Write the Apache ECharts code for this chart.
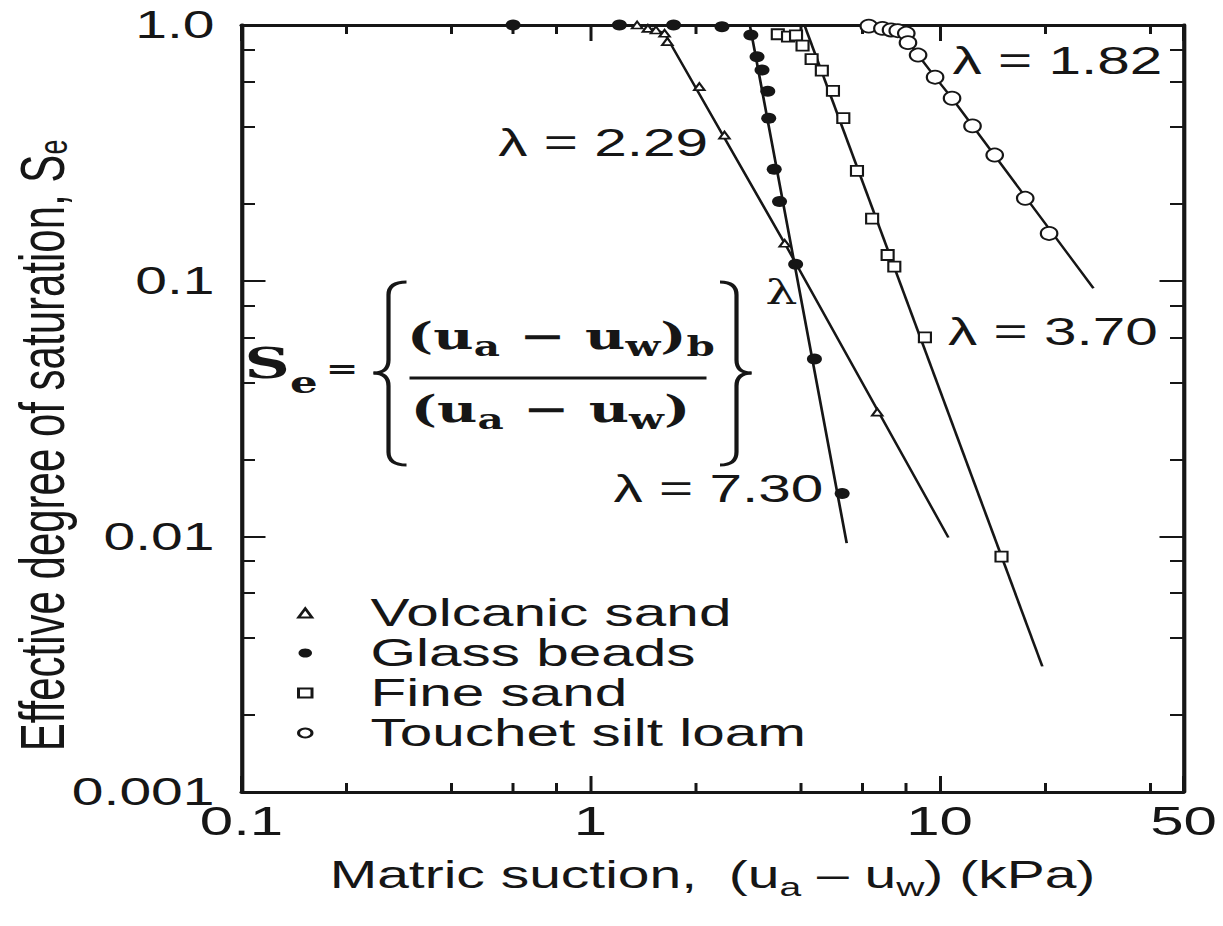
<!DOCTYPE html>
<html>
<head>
<meta charset="utf-8">
<title>Effective degree of saturation vs matric suction</title>
<script src="https://cdn.jsdelivr.net/npm/echarts@6.0.0/dist/echarts.min.js"></script>
<style>
  html, body { margin:0; padding:0; background:#ffffff; overflow:hidden; width:1223px; height:926px; }
  #chart { width:815.333px; height:926px; transform:scaleX(1.5); transform-origin:0 0; }
</style>
</head>
<body>
<div id="chart"></div>
<script>
// ---------------- data ----------------
const xLabelValues = [0.1, 1, 10, 50];
const yLabelValues = [0.001, 0.01, 0.1, 1];
const xMajorTicks = [0.1, 1, 10, 50];
const xMinorTicks = [0.2, 0.4, 0.6, 0.8, 2, 4, 6, 8, 20, 40];
const yMajorTicks = [0.001, 0.01, 0.1, 1];
const yMinorTicks = [0.002, 0.004, 0.006, 0.008, 0.02, 0.04, 0.06, 0.08, 0.2, 0.4, 0.6, 0.8];

const seriesNames = ['Volcanic sand', 'Glass beads', 'Fine sand', 'Touchet silt loam'];

// measured points [matric suction kPa, Se]
const volcanicPoints = [[1.36, 1.0], [1.46, 0.97], [1.54, 0.956], [1.63, 0.928], [1.66, 0.861],
  [2.05, 0.574], [2.42, 0.371], [3.6, 0.14], [6.63, 0.0306]];
const glassPoints = [[0.6, 1.0], [1.21, 1.0], [1.73, 1.0], [2.38, 0.985], [2.88, 0.914], [3.0, 0.751],
  [3.1, 0.667], [3.22, 0.551], [3.24, 0.432], [3.36, 0.273], [3.48, 0.204], [3.87, 0.116],
  [4.38, 0.0494], [5.26, 0.0147]];
const finePoints = [[3.44, 0.92], [3.68, 0.9], [3.88, 0.91], [4.05, 0.83], [4.3, 0.735], [4.6, 0.663],
  [4.95, 0.553], [5.3, 0.432], [5.8, 0.269], [6.41, 0.175], [7.1, 0.126], [7.42, 0.1135],
  [9.08, 0.06], [15.05, 0.00833]];
const touchetPoints = [[6.27, 0.99], [6.86, 0.97], [7.26, 0.956], [7.59, 0.95], [8.03, 0.928],
  [8.12, 0.853], [8.68, 0.763], [9.71, 0.625], [10.86, 0.517], [12.43, 0.403], [14.39, 0.31],
  [17.6, 0.21], [20.6, 0.153]];

// fitted lines (vertices)
const volcanicFit = [[1.5, 0.97], [1.63, 0.928], [3.6, 0.14], [10.6, 0.0099]];
const glassFit = [[2.86, 1.0], [2.95, 0.8], [5.42, 0.0094]];
const fineFit = [[4.1, 1.0], [19.7, 0.0031]];
const touchetFit = [[6.0, 1.0], [6.86, 0.97], [7.59, 0.95], [8.12, 0.86], [8.68, 0.763],
  [9.71, 0.625], [10.86, 0.517], [27.6, 0.0934]];

const lambdaTexts = ['λ = 2.29', 'λ = 1.82', 'λ = 3.70', 'λ = 7.30', 'λ'];
const xTitle = ['Matric suction,  (u', 'a', ' – u', 'w', ') (kPa)'];
const yTitle = ['Effective degree of saturation, S', 'e'];

// ---------------- chart ----------------
const INK = '#161616';
const SANS = '"Liberation Sans", Arial, Helvetica, sans-serif';
const SERIF = '"DejaVu Serif", "Liberation Serif", serif';

const chart = echarts.init(document.getElementById('chart'), null, { renderer: 'svg' });

function fmtX(v) { return String(+v.toPrecision(6)); }
function fmtY(v) { return Math.abs(v - 1) < 1e-9 ? '1.0' : String(+v.toPrecision(6)); }

function xAx(position, ticks, len, withLine, withLabel) {
  return {
    type: 'log', logBase: 10, min: 0.1, max: 50, position: position, gridIndex: 0,
    axisLine: { show: withLine, lineStyle: { color: INK, width: 2.8 } },
    axisTick: { show: true, inside: true, length: len, customValues: ticks, lineStyle: { color: INK, width: 2 } },
    axisLabel: { show: withLabel, customValues: xLabelValues, formatter: fmtX, fontSize: 40, fontFamily: SANS, color: INK, margin: 9 },
    splitLine: { show: false }, minorTick: { show: false }, minorSplitLine: { show: false },
    axisPointer: { show: false }
  };
}
function yAx(position, ticks, len, withLine, withLabel) {
  return {
    type: 'log', logBase: 10, min: 0.001, max: 1, position: position, gridIndex: 0,
    axisLine: { show: withLine, lineStyle: { color: INK, width: 2.8 } },
    axisTick: { show: true, inside: true, length: len, customValues: ticks, lineStyle: { color: INK, width: 2 } },
    axisLabel: { show: withLabel, customValues: yLabelValues, formatter: fmtY, fontSize: 38, fontFamily: SANS, color: INK, margin: 18 },
    splitLine: { show: false }, minorTick: { show: false }, minorSplitLine: { show: false },
    axisPointer: { show: false }
  };
}

const xAxes = [
  xAx('bottom', xMajorTicks, 16, true, true),
  xAx('bottom', xMinorTicks, 9, false, false),
  xAx('top', xMajorTicks, 16, true, false),
  xAx('top', xMinorTicks, 9, false, false)
];
Object.assign(xAxes[0], {
  name: '{m|' + xTitle[0] + '}{s|' + xTitle[1] + '}{m|' + xTitle[2] + '}{s|' + xTitle[3] + '}{m|' + xTitle[4] + '}',
  nameLocation: 'middle', nameGap: 62, nameMoveOverlap: false,
  nameTextStyle: {
    rich: {
      m: { fontFamily: SANS, fontSize: 38, color: INK, height: 42, lineHeight: 42, verticalAlign: 'top' },
      s: { fontFamily: SANS, fontSize: 26, color: INK, height: 66, lineHeight: 66, verticalAlign: 'bottom' }
    }
  }
});

const yAxes = [
  yAx('left', yMajorTicks, 16, true, true),
  yAx('left', yMinorTicks, 9, false, false),
  yAx('right', yMajorTicks, 16, true, false),
  yAx('right', yMinorTicks, 9, false, false)
];
Object.assign(yAxes[0], {
  name: '{m|' + yTitle[0] + '}{s|' + yTitle[1] + '}',
  nameLocation: 'middle', nameRotate: 90, nameGap: 98, nameMoveOverlap: false,
  nameTextStyle: {
    padding: [0, 74, 0, 0],
    rich: {
      m: { fontFamily: SANS, fontSize: 42, color: INK, height: 42, lineHeight: 42, verticalAlign: 'top' },
      s: { fontFamily: SANS, fontSize: 27, color: INK, height: 56, lineHeight: 56, verticalAlign: 'bottom' }
    }
  }
});

function fitLine(name, data) {
  return {
    name: name, type: 'line', data: data, xAxisIndex: 0, yAxisIndex: 0,
    symbol: 'none', silent: true, z: 2, clip: true,
    lineStyle: { color: INK, width: 1.8 }
  };
}
function pts(name, data, symbol, size, filled) {
  return {
    name: name, type: 'scatter', data: data, xAxisIndex: 0, yAxisIndex: 0,
    symbol: symbol, symbolSize: size, z: 4, clip: false,
    itemStyle: filled ? { color: INK, borderColor: INK, borderWidth: 0, opacity: 1 }
                      : { color: '#ffffff', borderColor: INK, borderWidth: 1.6, opacity: 1 }
  };
}

// curly brace drawn from bezier curves and lines
function braceParts(xEnd, xStem, xTip, yTop, yMid, yBot) {
  const st = { stroke: INK, lineWidth: 2.8, fill: null };
  const r = 13;
  return [
    { type: 'bezierCurve', z: 10, silent: true, shape: { x1: xEnd, y1: yTop, cpx1: xStem, cpy1: yTop, x2: xStem, y2: yTop + r }, style: st },
    { type: 'line', z: 10, silent: true, shape: { x1: xStem, y1: yTop + r, x2: xStem, y2: yMid - r }, style: st },
    { type: 'bezierCurve', z: 10, silent: true, shape: { x1: xStem, y1: yMid - r, cpx1: xStem, cpy1: yMid, x2: xTip, y2: yMid }, style: st },
    { type: 'bezierCurve', z: 10, silent: true, shape: { x1: xTip, y1: yMid, cpx1: xStem, cpy1: yMid, x2: xStem, y2: yMid + r }, style: st },
    { type: 'line', z: 10, silent: true, shape: { x1: xStem, y1: yMid + r, x2: xStem, y2: yBot - r }, style: st },
    { type: 'bezierCurve', z: 10, silent: true, shape: { x1: xStem, y1: yBot - r, cpx1: xStem, cpy1: yBot, x2: xEnd, y2: yBot }, style: st }
  ];
}

const eqRich = {
  p: { fontFamily: SERIF, fontWeight: 'bold', fontSize: 37, fill: INK, height: 40, lineHeight: 40, verticalAlign: 'top' },
  s: { fontFamily: SERIF, fontWeight: 'bold', fontSize: 27, fill: INK, height: 62, lineHeight: 62, verticalAlign: 'bottom' }
};
const seRich = {
  S: { fontFamily: SERIF, fontWeight: 'bold', fontSize: 42, fill: INK, height: 42, lineHeight: 42, verticalAlign: 'top' },
  e: { fontFamily: SERIF, fontWeight: 'bold', fontSize: 29, fill: INK, height: 82, lineHeight: 82, verticalAlign: 'bottom' }
};

function lambdaText(txt, x, y, align) {
  return { type: 'text', x: x, y: y, z: 10, silent: true,
    style: { text: txt, fontFamily: SANS, fontSize: 39, fill: INK, align: align, verticalAlign: 'middle' } };
}

const graphics = [
  lambdaText(lambdaTexts[0], 472, 143, 'right'),
  lambdaText(lambdaTexts[1], 635, 61, 'left'),
  lambdaText(lambdaTexts[2], 632, 332, 'left'),
  lambdaText(lambdaTexts[3], 409, 489, 'left'),
  { type: 'text', x: 521, y: 292, z: 10, silent: true,
    style: { text: lambdaTexts[4], fontFamily: SERIF, fontSize: 34, fill: INK, align: 'center', verticalAlign: 'middle' } },
  { type: 'text', x: 163, y: 342, z: 10, silent: true,
    style: { text: '{S|S}{e|e}', rich: seRich, align: 'left', verticalAlign: 'top' } },
  { type: 'text', x: 228, y: 369, z: 10, silent: true,
    style: { text: '=', fontFamily: SERIF, fontWeight: 'bold', fontSize: 26, fill: INK, align: 'center', verticalAlign: 'middle' } },
  { type: 'text', x: 374, y: 316, z: 10, silent: true,
    style: { text: '{p|(u}{s|a}{p| − u}{s|w}{p|)}{s|b}', rich: eqRich, align: 'center', verticalAlign: 'top' } },
  { type: 'line', z: 10, silent: true, shape: { x1: 273, y1: 378, x2: 471, y2: 378 },
    style: { stroke: INK, lineWidth: 3 } },
  { type: 'text', x: 367, y: 389, z: 10, silent: true,
    style: { text: '{p|(u}{s|a}{p| − u}{s|w}{p|)}', rich: eqRich, align: 'center', verticalAlign: 'top' } }
].concat(braceParts(271, 259, 249, 282, 373, 465), braceParts(480, 491, 501, 282, 373, 465));

const option = {
  backgroundColor: '#ffffff',
  animation: false,
  grid: { left: 161, right: 26, top: 25, bottom: 134, containLabel: false, outerBoundsMode: 'none' },
  xAxis: xAxes,
  yAxis: yAxes,
  legend: {
    data: seriesNames,
    orient: 'vertical', left: 198, top: 593, padding: 0,
    itemWidth: 9, itemHeight: 9, itemGap: 0,
    selectedMode: false,
    textStyle: { fontFamily: SANS, fontSize: 39, color: INK, lineHeight: 40, height: 40, padding: [0, 0, 0, 34] }
  },
  series: [
    fitLine('Volcanic sand fit', volcanicFit),
    fitLine('Glass beads fit', glassFit),
    fitLine('Fine sand fit', fineFit),
    fitLine('Touchet silt loam fit', touchetFit),
    pts(seriesNames[0], volcanicPoints, 'triangle', [7, 7], false),
    pts(seriesNames[1], glassPoints, 'circle', [10, 11], true),
    pts(seriesNames[2], finePoints, 'rect', [8, 10], false),
    pts(seriesNames[3], touchetPoints, 'circle', [11, 13], false)
  ],
  graphic: graphics
};

chart.setOption(option);
</script>
</body>
</html>
